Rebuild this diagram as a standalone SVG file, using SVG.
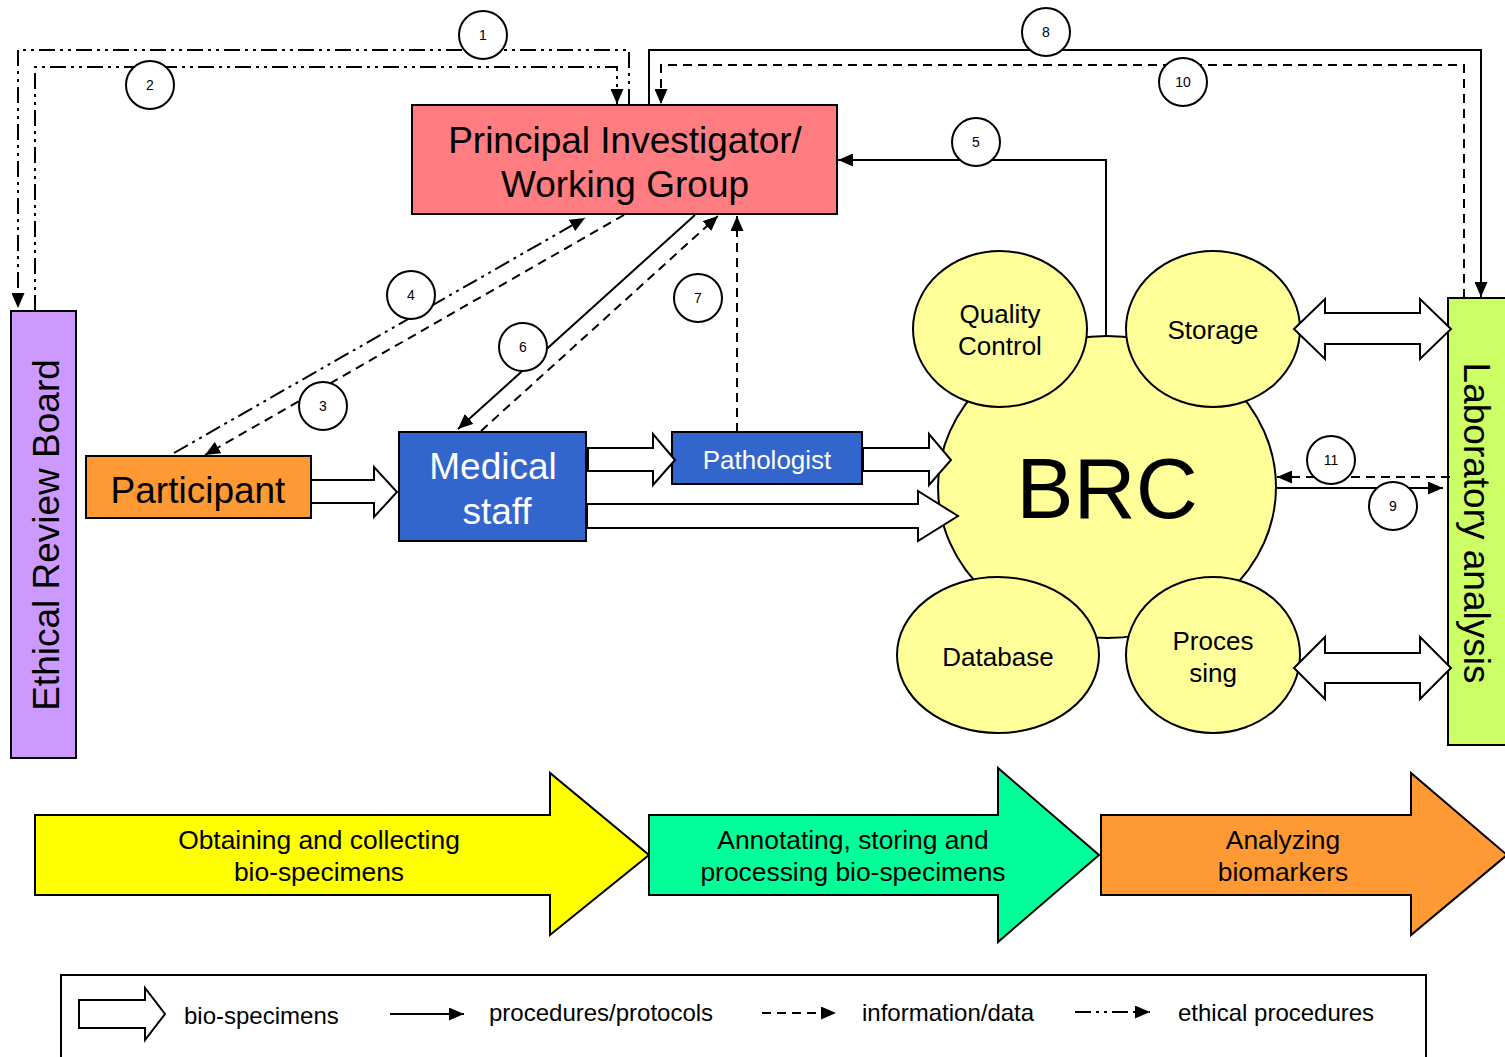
<svg xmlns="http://www.w3.org/2000/svg" width="1505" height="1057" viewBox="0 0 1505 1057">
<style>
text{font-family:"Liberation Sans",Arial,sans-serif;fill:#000}
.box{stroke:#000;stroke-width:2}
.ell{fill:#ffff99;stroke:#000;stroke-width:2}
.ln{fill:none;stroke:#000;stroke-width:2}
.sol{marker-end:url(#ah)}
.dsh{stroke-dasharray:9,6;marker-end:url(#ah)}
.dd{stroke-dasharray:16,5,3,5,3,5;marker-end:url(#ah)}
.blk{fill:#fff;stroke:#000;stroke-width:2;stroke-linejoin:miter}
.big{stroke:#000;stroke-width:2}
.lab{fill:#fff;stroke:#000;stroke-width:2}
.num{font-size:14px;text-anchor:middle}
.mid{text-anchor:middle}
</style>
<defs>
<marker id="ah" markerUnits="userSpaceOnUse" markerWidth="15" markerHeight="13" refX="15" refY="6.5" orient="auto">
<path d="M0,0 L15,6.5 L0,13 z" fill="#000"/>
</marker>
</defs>
<rect width="1505" height="1057" fill="#fff"/>

<g id="phases">
<polygon class="big" fill="#ffff00" points="35,815 550,815 550,773 649,855 550,935 550,895 35,895"/>
<polygon class="big" fill="#00ff99" points="649,815 998,815 998,768 1099,855 998,942 998,895 649,895"/>
<polygon class="big" fill="#ff9933" points="1101,815 1411,815 1411,773 1507,855 1411,935 1411,895 1101,895"/>
<text class="mid" x="319" y="849" font-size="26.4">Obtaining and collecting</text>
<text class="mid" x="319" y="881" font-size="26.4">bio-specimens</text>
<text class="mid" x="853" y="849" font-size="26.4">Annotating, storing and</text>
<text class="mid" x="853" y="881" font-size="26.4">processing bio-specimens</text>
<text class="mid" x="1283" y="849" font-size="26.4">Analyzing</text>
<text class="mid" x="1283" y="881" font-size="26.4">biomarkers</text>
</g>

<g id="erb">
<rect class="box" x="11" y="311" width="65" height="447" fill="#cc99ff"/>
<text class="mid" font-size="37" transform="translate(59,535) rotate(-90)">Ethical Review Board</text>
</g>

<g id="pi">
<rect class="box" x="412" y="105" width="425" height="109" fill="#ff7c80"/>
<text class="mid" x="625" y="153" font-size="37">Principal Investigator/</text>
<text class="mid" x="625" y="197" font-size="37">Working Group</text>
</g>

<g id="participant">
<rect class="box" x="86" y="456" width="225" height="62" fill="#ff9933"/>
<text class="mid" x="198" y="503" font-size="37">Participant</text>
</g>

<g id="medical">
<rect class="box" x="399" y="432" width="187" height="109" fill="#3366cc"/>
<text class="mid" x="493" y="479" font-size="37" style="fill:#fff">Medical</text>
<text class="mid" x="497" y="524" font-size="37" style="fill:#fff">staff</text>
</g>

<g id="pathologist">
<rect class="box" x="672" y="432" width="190" height="52" fill="#3366cc"/>
<text class="mid" x="767" y="469" font-size="26" style="fill:#fff">Pathologist</text>
</g>

<g id="brc">
<ellipse class="ell" cx="1107" cy="487" rx="169" ry="151"/>
<text class="mid" x="1107" y="518" font-size="86">BRC</text>
</g>
<g id="qc">
<ellipse class="ell" cx="1000" cy="329" rx="87" ry="78"/>
<text class="mid" x="1000" y="323" font-size="26">Quality</text>
<text class="mid" x="1000" y="355" font-size="26">Control</text>
</g>
<g id="storage">
<ellipse class="ell" cx="1213" cy="329" rx="87" ry="78"/>
<text class="mid" x="1213" y="339" font-size="26">Storage</text>
</g>
<g id="database">
<ellipse class="ell" cx="998" cy="655" rx="101" ry="78"/>
<text class="mid" x="998" y="666" font-size="26">Database</text>
</g>
<g id="processing">
<ellipse class="ell" cx="1213" cy="655" rx="87" ry="78"/>
<text class="mid" x="1213" y="650" font-size="26">Proces</text>
<text class="mid" x="1213" y="682" font-size="26">sing</text>
</g>

<g id="lab">
<rect class="box" x="1448" y="298" width="62" height="447" fill="#ccff66"/>
<text class="mid" font-size="37" transform="translate(1464,523) rotate(90)">Laboratory analysis</text>
</g>

<g id="connectors">
<path class="ln dd" d="M629,105 V50 H18 V308"/>
<path class="ln dd" d="M35,311 V67 H617 V104"/>
<path class="ln sol" d="M649,105 V50 H1481 V297"/>
<path class="ln dsh" d="M1464,298 V65 H661 V104"/>
<path class="ln sol" d="M1106,336 V160 H838"/>
<path class="ln dsh" d="M624,215 L205,455"/>
<path class="ln dd" d="M174,453 L585,218"/>
<path class="ln sol" d="M695,215 L458,429"/>
<path class="ln dsh" d="M481,431 L718,216"/>
<path class="ln dsh" d="M737,432 V216"/>
<path class="ln sol" d="M1276,488 H1443"/>
<path class="ln dsh" d="M1450,477 H1277"/>
<polygon class="blk" points="311,480 374,480 374,467 397,492 374,517 374,503 311,503"/>
<polygon class="blk" points="588,448 653,448 653,434 675,460 653,485 653,471 588,471"/>
<polygon class="blk" points="863,448 929,448 929,434 951,460 929,485 929,471 863,471"/>
<polygon class="blk" points="587,504 918,504 918,491 958,516 918,541 918,528 587,528"/>
<polygon class="blk" points="1294,329 1325,299 1325,313 1420,313 1420,299 1451,329 1420,359 1420,344 1325,344 1325,359"/>
<polygon class="blk" points="1294,668 1325,637 1325,653 1420,653 1420,637 1451,668 1420,699 1420,683 1325,683 1325,699"/>
</g>

<g id="labels">
<circle class="lab" cx="483" cy="35" r="24"/><text class="num" x="483" y="40">1</text>
<circle class="lab" cx="150" cy="85" r="24"/><text class="num" x="150" y="90">2</text>
<circle class="lab" cx="323" cy="406" r="24"/><text class="num" x="323" y="411">3</text>
<circle class="lab" cx="411" cy="295" r="24"/><text class="num" x="411" y="300">4</text>
<circle class="lab" cx="976" cy="142" r="24"/><text class="num" x="976" y="147">5</text>
<circle class="lab" cx="523" cy="347" r="24"/><text class="num" x="523" y="352">6</text>
<circle class="lab" cx="698" cy="298" r="24"/><text class="num" x="698" y="303">7</text>
<circle class="lab" cx="1046" cy="32" r="24"/><text class="num" x="1046" y="37">8</text>
<circle class="lab" cx="1393" cy="506" r="24"/><text class="num" x="1393" y="511">9</text>
<circle class="lab" cx="1183" cy="82" r="24"/><text class="num" x="1183" y="87">10</text>
<circle class="lab" cx="1331" cy="460" r="24"/><text class="num" x="1331" y="465">11</text>
</g>

<g id="legend">
<rect x="61" y="975" width="1365" height="100" fill="#fff" stroke="#000" stroke-width="2"/>
<polygon class="blk" points="79,1000 145,1000 145,988 165,1014 145,1040 145,1028 79,1028"/>
<text x="184" y="1024" font-size="24">bio-specimens</text>
<path class="ln sol" d="M390,1014 H464"/>
<text x="489" y="1021" font-size="24">procedures/protocols</text>
<path class="ln dsh" d="M762,1013 H836"/>
<text x="862" y="1021" font-size="24">information/data</text>
<path class="ln dd" d="M1075,1012 H1150"/>
<text x="1178" y="1021" font-size="24">ethical procedures</text>
</g>
</svg>
